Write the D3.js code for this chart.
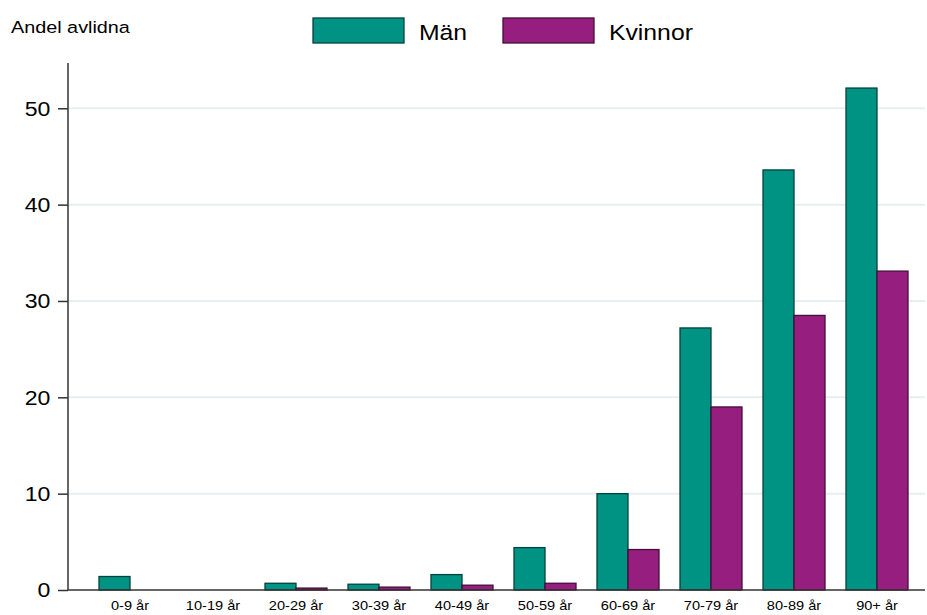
<!DOCTYPE html>
<html><head><meta charset="utf-8">
<script src="https://cdn.jsdelivr.net/npm/d3@7"></script>
<style>body{margin:0;background:#fff}text{font-family:"Liberation Sans",Arial,sans-serif}</style>
</head><body><svg id="c" width="927" height="615"></svg>
<script>
const categories = ["0-9 år","10-19 år","20-29 år","30-39 år","40-49 år","50-59 år","60-69 år","70-79 år","80-89 år","90+ år"];
const seriesNames = ["Män","Kvinnor"];
const man = [1.4,0,0.7,0.6,1.6,4.4,10.0,27.2,43.6,52.1];
const kvinnor = [0,0,0.2,0.3,0.5,0.7,4.2,19.0,28.5,33.1];
const yTicks = [0,10,20,30,40,50];
const colors = ["#009384","#961e7e"];

const svg = d3.select("#c");
const x0 = d3.scaleBand().domain(categories).range([88.5,918.5]).paddingInner(0.253).paddingOuter(0.1265);
const x1 = d3.scaleBand().domain(seriesNames).range([0,x0.bandwidth()]);
const y = d3.scaleLinear().domain([0,54.7]).range([590,63]);

// gridlines
svg.append("g").selectAll("line").data(yTicks.filter(d=>d>0)).join("line")
  .attr("x1",69).attr("x2",925).attr("y1",d=>y(d)).attr("y2",d=>y(d))
  .attr("stroke","#e6eef2").attr("stroke-width",2);

const data = categories.map((c,i)=>({c, vals:[man[i],kvinnor[i]]}));
const g = svg.append("g");
data.forEach(d=>{
  d.vals.forEach((v,j)=>{
    if(v<=0) return;
    g.append("rect").attr("x",x0(d.c)+x1(seriesNames[j])).attr("width",x1.bandwidth())
      .attr("y",y(v)).attr("height",y(0)-y(v))
      .attr("fill",colors[j]).attr("stroke",d3.color(colors[j]).darker(2.2)).attr("stroke-width",1.3);
  });
});

// y axis
const ya = svg.append("g").attr("transform","translate(68,0)")
  .call(d3.axisLeft(y).tickValues(yTicks).tickSize(10).tickPadding(6));
ya.select(".domain").attr("d","M0,63V590").attr("stroke","#333").attr("stroke-width",1.5);
ya.selectAll(".tick line").attr("stroke","#333").attr("stroke-width",1.5);
ya.selectAll(".tick text").attr("font-size",21).attr("fill","#000").attr("font-family","Liberation Sans, Arial, sans-serif")
  .attr("transform","scale(1.1,1)");

// x axis
const xa = svg.append("g").attr("transform","translate(0,590)")
  .call(d3.axisBottom(x0).tickSize(0).tickPadding(10));
xa.select(".domain").attr("d","M68,0H925").attr("stroke","#333").attr("stroke-width",1.5);
xa.selectAll(".tick text").attr("font-size",13.5).attr("fill","#000").attr("font-family","Liberation Sans, Arial, sans-serif")
  .attr("transform","scale(1.08,1)");

svg.append("text").attr("transform","translate(11,33) scale(1.2,1)").attr("font-size",16.5).text("Andel avlidna");

// legend
const legX = [313,503];
seriesNames.forEach((s,j)=>{
  svg.append("rect").attr("x",legX[j]).attr("y",18).attr("width",91).attr("height",25)
    .attr("fill",colors[j]).attr("stroke",d3.color(colors[j]).darker(2.2)).attr("stroke-width",1.3);
  svg.append("text").attr("transform",`translate(${legX[j]+106},40) scale(1.1,1)`).attr("font-size",22.5).text(s);
});
</script></body></html>
